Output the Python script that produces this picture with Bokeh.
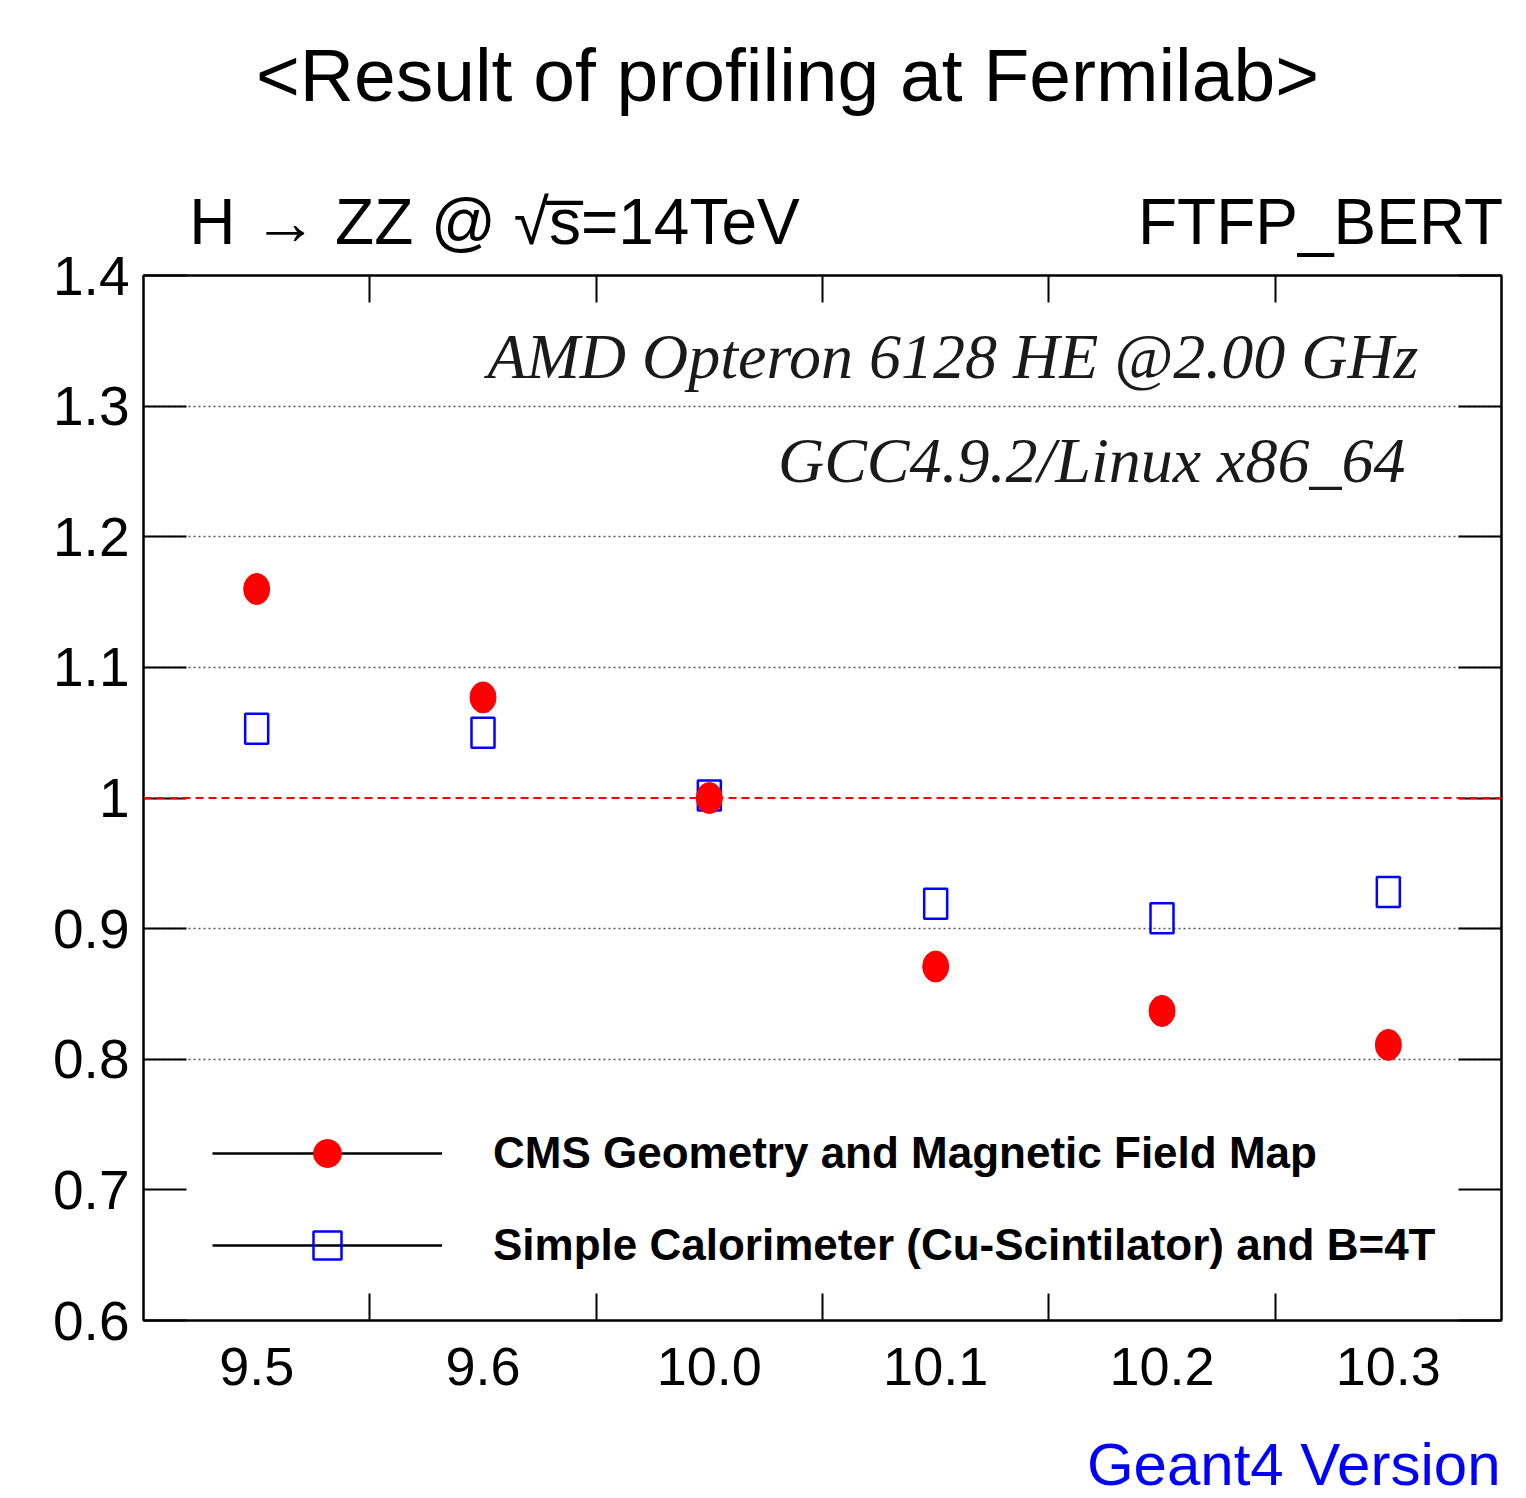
from bokeh.plotting import figure
from bokeh.layouts import column
from bokeh.models import (Range1d, FixedTicker, LinearAxis, Label, Span, Legend,
                          LegendItem, Grid)
from bokeh.embed import file_html
from bokeh.resources import INLINE

# ---------------- data ----------------
versions = ["9.5", "9.6", "10.0", "10.1", "10.2", "10.3"]
cms_geometry = [1.160, 1.077, 1.000, 0.871, 0.837, 0.811]
simple_calo = [1.053, 1.050, 1.002, 0.919, 0.908, 0.928]
y_ticks = [0.6, 0.7, 0.8, 0.9, 1.0, 1.1, 1.2, 1.3, 1.4]
y_tick_labels = ["0.6", "0.7", "0.8", "0.9", "1", "1.1", "1.2", "1.3", "1.4"]
grid_levels = [0.8, 0.9, 1.1, 1.2, 1.3]
reference_level = 1.0
series_names = ["CMS Geometry and Magnetic Field Map",
                "Simple Calorimeter (Cu-Scintilator) and B=4T"]
header_texts = ["H \u2192 ZZ @ \u221as\u0305=14TeV", "FTFP_BERT"]

x_pos = [i + 0.5 for i in range(len(versions))]
bin_edges = [float(i) for i in range(1, len(versions))]

FONT = "Liberation Sans"
W = 1526
LEFT, RIGHT = 143, 25
FRAME_W = W - LEFT - RIGHT
FRAME_TOP = 275
HEAD_H = 150
FOOT_H = 78
MAIN_H = 1498 - HEAD_H - FOOT_H

# horizontal centres (page px) of the two texts above the frame -> axis units
header_px = [494, 1320]
header_x = [(px - LEFT) / FRAME_W * len(versions) for px in header_px]


def blank_fig(h):
    # page-pixel coordinates inside the (column-aligned) frame
    f = figure(width=W, height=h, x_range=Range1d(LEFT, W - RIGHT), y_range=Range1d(h, 0),
               x_axis_type=None, y_axis_type=None,
               output_backend="svg", toolbar_location=None,
               min_border_left=LEFT, min_border_right=RIGHT,
               min_border_top=0, min_border_bottom=0)
    f.outline_line_color = None
    f.background_fill_color = "white"
    f.border_fill_color = "white"
    return f


def add_label(f, text, x, y, align, size, font=FONT, style="normal", color="black",
              units="data"):
    f.add_layout(Label(x=x, y=y, x_units=units, y_units=units, text=text,
                       text_align=align, text_baseline="alphabetic",
                       text_font=font, text_font_size=size, text_font_style=style,
                       text_color=color))


# ---------------- header ----------------
head = blank_fig(HEAD_H)
add_label(head, "<Result of profiling at Fermilab>", 787, 74, "center", "75px")

# ---------------- main plot ----------------
p = figure(width=W, height=MAIN_H,
           x_range=Range1d(0, len(versions)), y_range=Range1d(0.6, 1.4),
           x_axis_type=None, y_axis_type=None,
           output_backend="svg", toolbar_location=None,
           min_border_left=LEFT, min_border_right=RIGHT,
           min_border_top=FRAME_TOP - HEAD_H, min_border_bottom=100)
p.background_fill_color = "white"
p.border_fill_color = "white"
p.outline_line_color = "black"
p.outline_line_width = 2

p.add_layout(Grid(dimension=1, ticker=FixedTicker(ticks=grid_levels),
                  grid_line_color="#555555", grid_line_width=1.5,
                  grid_line_dash="2 3"))
p.add_layout(Span(location=reference_level, dimension="width",
                  line_color="red", line_width=2, line_dash="8 5"))

xb = LinearAxis(ticker=FixedTicker(ticks=x_pos, minor_ticks=bin_edges),
                major_label_overrides={x: v for x, v in zip(x_pos, versions)})
xb.major_tick_line_color = None
xb.major_tick_out = 0
xb.minor_tick_in = 27
xb.minor_tick_out = 0
xb.minor_tick_line_color = "black"
xb.minor_tick_line_width = 2
xb.axis_line_color = "black"
xb.axis_line_width = 2
xb.major_label_standoff = 27
xb.major_label_text_font = FONT
xb.major_label_text_font_size = "54px"
xb.major_label_text_color = "black"
p.add_layout(xb, "below")

# top axis: bin-edge ticks; its labels carry the two header texts
xa = LinearAxis(ticker=FixedTicker(ticks=header_x, minor_ticks=bin_edges),
                major_label_overrides={x: t for x, t in zip(header_x, header_texts)})
xa.major_tick_line_color = None
xa.major_tick_out = 0
xa.major_tick_in = 0
xa.major_label_standoff = 18
xa.major_label_text_font = FONT
xa.major_label_text_font_size = "64px"
xa.major_label_text_color = "black"
xa.minor_tick_in = 27
xa.minor_tick_out = 0
xa.minor_tick_line_color = "black"
xa.minor_tick_line_width = 2
xa.axis_line_color = "black"
xa.axis_line_width = 2
p.add_layout(xa, "above")

yl = LinearAxis(ticker=FixedTicker(ticks=y_ticks),
                major_label_overrides={y: t for y, t in zip(y_ticks, y_tick_labels)})
yl.major_tick_in = 43
yl.major_tick_out = 0
yl.major_tick_line_color = "black"
yl.major_tick_line_width = 2
yl.minor_tick_line_color = None
yl.axis_line_color = "black"
yl.axis_line_width = 2
yl.major_label_standoff = 14
yl.major_label_text_font = FONT
yl.major_label_text_font_size = "55px"
yl.major_label_text_color = "black"
p.add_layout(yl, "left")

yr = LinearAxis(ticker=FixedTicker(ticks=[], minor_ticks=y_ticks))
yr.major_tick_line_color = None
yr.major_tick_out = 0
yr.major_label_standoff = 0
yr.minor_tick_in = 43
yr.minor_tick_out = 0
yr.minor_tick_line_color = "black"
yr.minor_tick_line_width = 2
yr.axis_line_color = "black"
yr.axis_line_width = 2
p.add_layout(yr, "right")

# data markers
p.rect(x=x_pos, y=simple_calo, width=23, height=30,
       width_units="screen", height_units="screen",
       fill_color=None, line_color="#0000ff", line_width=2.5)
p.ellipse(x=x_pos, y=cms_geometry, width=26, height=31,
          width_units="screen", height_units="screen",
          fill_color="#ff0000", line_color="#ff0000")

# legend-only renderers (hidden in the plot, drawn in the legend)
leg_line = p.line(x_pos, cms_geometry, line_color="black", line_width=2.5, visible=False)
leg_dot = p.scatter(x_pos, cms_geometry, marker="circle", fill_color="#ff0000",
                    line_color="#ff0000", size=28, visible=False)
leg_sq = p.scatter(x_pos, simple_calo, marker="square", fill_color=None,
                   line_color="#0000ff", line_width=2.5, size=28, visible=False)
legend = Legend(items=[LegendItem(label=series_names[0], renderers=[leg_line, leg_dot]),
                       LegendItem(label=series_names[1], renderers=[leg_line, leg_sq])],
                location=(69, 40), orientation="vertical", click_policy="none",
                inactive_fill_alpha=0,
                glyph_width=230, glyph_height=70, label_height=70,
                label_standoff=51, spacing=22, padding=0, margin=0,
                border_line_color=None, background_fill_alpha=0,
                label_text_font=FONT, label_text_font_style="bold",
                label_text_font_size="44px", label_text_color="black",
                label_text_baseline="middle")
p.add_layout(legend)

# in-frame annotations (screen units relative to the frame's bottom-left)
add_label(p, "AMD Opteron 6128 HE @2.00 GHz", 1275, 964, "right", "64px",
          font="Liberation Serif", style="italic", color="#1a1a1a", units="screen")
add_label(p, "GCC4.9.2/Linux x86_64", 1262, 860, "right", "64px",
          font="Liberation Serif", style="italic", color="#1a1a1a", units="screen")

# ---------------- footer ----------------
foot = blank_fig(FOOT_H)
add_label(foot, "Geant4 Version", 1500, 44, "right", "60px", color="#0000ff")

layout = column(head, p, foot, spacing=0)
open("out.html", "w").write(file_html(layout, INLINE))
